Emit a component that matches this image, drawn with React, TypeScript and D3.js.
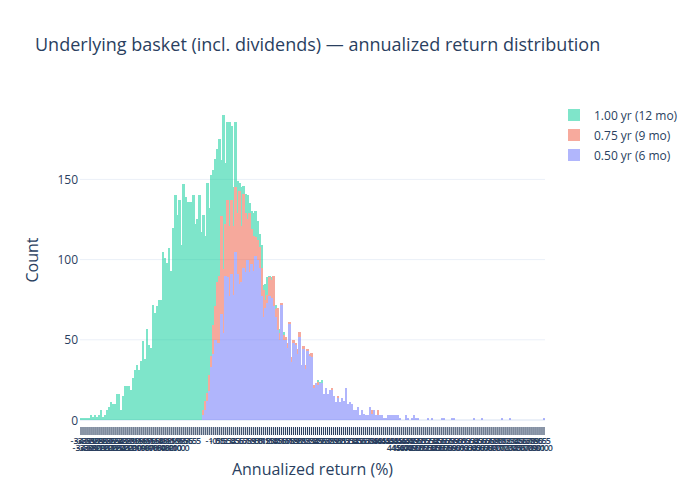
import React from 'react';
import * as d3 from 'd3';

const W = 700;
const H = 500;

const chartTitle = 'Underlying basket (incl. dividends) — annualized return distribution';
const xTitle = 'Annualized return (%)';
const yTitle = 'Count';
const yTicks = [0, 50, 100, 150];

const categoryCount = 232;
const xCategories = d3.range(categoryCount).map((i) => (-34.5 + i * 0.5).toFixed(1));

// 1.00 yr (12 mo): counts starting at category 0
const greenStart = 0;
const green12mo = [
  1, 1, 1, 1, 1, 3, 2, 3, 2, 3, 6, 2, 3, 6, 8, 11, 10, 10, 16, 16,
  6, 15, 21, 21, 21, 19, 26, 31, 34, 31, 37, 49, 38, 57, 47, 45, 72, 67, 71, 75,
  75, 105, 101, 98, 107, 93, 120, 140, 128, 137, 109, 147, 139, 136, 136, 136, 140, 122, 125, 140,
  117, 128, 115, 148, 132, 153, 156, 163, 169, 175, 162, 190, 160, 186, 186, 183, 145, 186, 149, 148,
  145, 146, 141, 140, 135, 130, 129, 130, 124, 116, 109, 84, 85, 89, 90, 89, 85, 72, 67, 57,
  50, 55, 45, 40, 42, 33, 38, 36, 33, 30, 28, 30, 26, 27, 24, 22, 18, 20, 25, 24,
  25, 14, 12, 10, 11, 9, 8, 7, 6, 5, 5, 4, 3, 3, 2, 2, 1, 1, 1,
];

// 0.75 yr (9 mo): counts starting at category 61
const redStart = 61;
const red9mo = [
  6, 12, 17, 28, 40, 59, 71, 86, 90, 127, 94, 122, 137, 121, 137, 121, 145, 129, 143, 121,
  141, 129, 125, 129, 119, 115, 114, 112, 108, 95, 81, 75, 78, 89, 87, 90, 69, 70, 54, 73,
  53, 52, 48, 61, 39, 50, 48, 44, 55, 30, 46, 34, 44, 41, 42, 22, 20, 24, 20, 18,
  14, 16, 12, 15, 20, 11, 9, 15, 8, 10, 9, 12, 7, 8, 6, 4, 4, 5, 2, 4,
  3, 2, 2, 5, 6, 4, 2, 6, 2, 1, 1, 0, 1, 0, 1,
];

// 0.50 yr (6 mo): counts starting at category 61
const blueStart = 61;
const blue6mo = [
  3, 6, 12, 18, 33, 41, 50, 48, 48, 66, 54, 90, 89, 77, 91, 78, 105, 91, 85, 86,
  95, 92, 100, 92, 97, 93, 102, 100, 95, 77, 64, 70, 73, 77, 76, 71, 64, 56, 50, 72,
  50, 50, 45, 60, 36, 48, 47, 41, 52, 34, 44, 32, 43, 40, 39, 20, 23, 22, 23, 23,
  16, 20, 16, 19, 19, 15, 11, 14, 11, 14, 12, 20, 10, 11, 10, 6, 6, 8, 3, 6,
  4, 3, 3, 8, 4, 6, 3, 3, 3, 3, 1, 1, 3, 3, 3, 3, 3, 3, 1, 0,
  0, 3, 1, 0, 1, 3, 1, 1, 0, 0, 0, 0, 1, 0, 1, 0, 0, 0, 0, 1,
  1, 0, 0, 0, 1, 1, 0, 0, 0, 0, 0, 0, 0, 0, 0, 1, 0, 0, 0, 1,
  0, 0, 0, 0, 0, 0, 0, 0, 0, 1, 0, 0, 0, 1, 0, 0, 0, 0, 0, 0,
  0, 0, 0, 0, 0, 0, 0, 0, 0, 0, 1,
];

const seriesNames = ['1.00 yr (12 mo)', '0.75 yr (9 mo)', '0.50 yr (6 mo)'];
const seriesColors = ['#00cc96', '#EF553B', '#636efa'];
const seriesStarts = [greenStart, redStart, blueStart];
const seriesValues = [green12mo, red9mo, blue6mo];

const FONT = "'Open Sans', verdana, arial, sans-serif";
const TEXT = '#2a3f5f';
const GRID = '#EBF0F8';

export default function App() {
  const plotL = 80;
  const plotR = 545;
  const plotT = 100;
  const plotB = 420;

  const x = d3
    .scaleBand<number>()
    .domain(d3.range(categoryCount))
    .range([plotL, plotR])
    .paddingInner(0)
    .paddingOuter(0);
  const y = d3.scaleLinear().domain([0, 199.5]).range([plotB, plotT]);

  const series = seriesNames.map((name, k) => ({
    name,
    color: seriesColors[k],
    bars: seriesValues[k].map((v, j) => ({ cat: seriesStarts[k] + j, v })),
  }));

  const bw = x.bandwidth();
  const cx = (i: number) => (x(i) as number) + bw / 2;

  return (
    <svg
      width={W}
      height={H}
      style={{ position: 'absolute', left: 0, top: 0, background: '#fff' }}
      fontFamily={FONT}
    >
      <rect x={0} y={0} width={W} height={H} fill="#fff" />
      {/* grid */}
      {yTicks.map((t) => (
        <line
          key={'g' + t}
          x1={plotL}
          x2={plotR}
          y1={y(t)}
          y2={y(t)}
          stroke={GRID}
          strokeWidth={t === 0 ? 2 : 1}
        />
      ))}
      {/* bars */}
      <g opacity={0.5} shapeRendering="crispEdges">
        {series.map((s) => (
          <g key={s.name} fill={s.color}>
            {s.bars
              .filter((b) => b.v > 0)
              .map((b) => (
                <rect
                  key={b.cat}
                  x={x(b.cat)}
                  y={y(b.v)}
                  width={bw + 0.3}
                  height={y(0) - y(b.v)}
                />
              ))}
          </g>
        ))}
      </g>
      {/* y tick labels */}
      {yTicks.map((t) => (
        <text
          key={'yt' + t}
          x={plotL - 2}
          y={y(t) + 4.5}
          textAnchor="end"
          fontSize={12}
          fill={TEXT}
        >
          {t}
        </text>
      ))}
      {/* x category tick row (dense, as in the reference) */}
      <g stroke={TEXT} strokeWidth={1.1}>
        {xCategories.map((c, i) => (
          <line key={'xt' + i} x1={cx(i)} x2={cx(i)} y1={427} y2={435} />
        ))}
      </g>
      {/* x category labels, packed and overlapping as in the reference */}
      <g fontSize={9} fill={TEXT} textAnchor="middle" fontWeight={600}>
        {xCategories.map((c, i) =>
          i % 2 === 0 && (i < 58 || i > 64) ? (
            <text key={'xl2' + i} x={cx(i)} y={443.5}>
              {c}
            </text>
          ) : null
        )}
        {xCategories.map((c, i) =>
          i % 2 === 1 && (i <= 49 || i >= 156) ? (
            <text key={'xl3' + i} x={cx(i)} y={451}>
              {c}
            </text>
          ) : null
        )}
      </g>
      {/* axis titles */}
      <text x={(plotL + plotR) / 2} y={475} textAnchor="middle" fontSize={16} fill={TEXT}>
        {xTitle}
      </text>
      <text
        transform={`translate(38,${(plotT + plotB) / 2}) rotate(-90)`}
        textAnchor="middle"
        fontSize={16}
        fill={TEXT}
      >
        {yTitle}
      </text>
      {/* title */}
      <text x={35} y={51} fontSize={18} fill={TEXT}>
        {chartTitle}
      </text>
      {/* legend */}
      {series.map((s, k) => (
        <g key={'lg' + s.name} transform={`translate(568,${115 + k * 20})`}>
          <rect x={0} y={-6} width={12} height={12} fill={s.color} opacity={0.5} />
          <text x={26} y={4.5} fontSize={12} fill={TEXT}>
            {s.name}
          </text>
        </g>
      ))}
    </svg>
  );
}
